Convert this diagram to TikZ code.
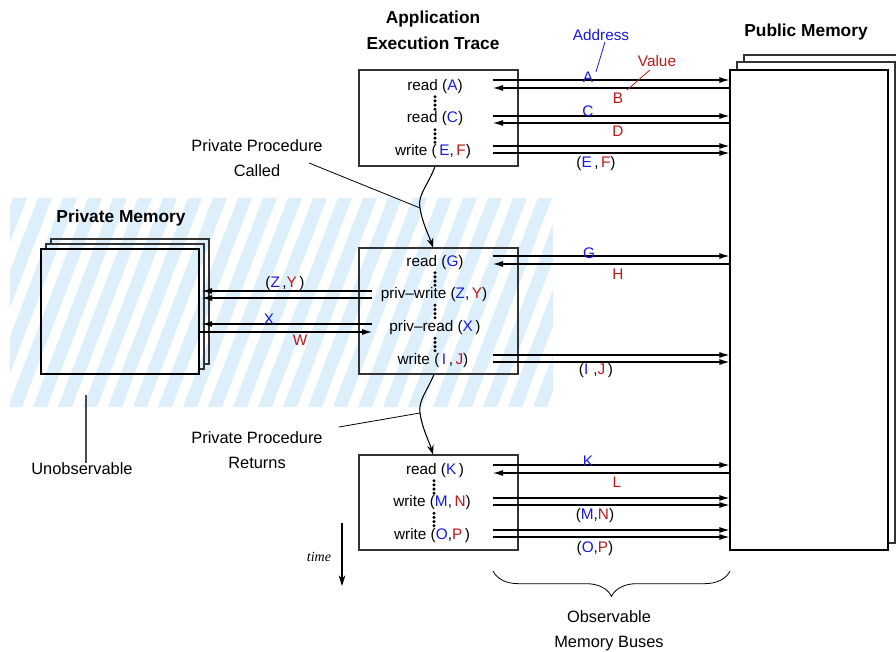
\documentclass[tikz,border=0pt]{standalone}
\usepackage{fontspec}
\setmainfont{Liberation Sans}
\newfontfamily\serifit{Liberation Serif}
\usetikzlibrary{arrows.meta,decorations.pathreplacing}
\definecolor{addr}{RGB}{25,25,225}
\definecolor{val}{RGB}{185,25,25}
\definecolor{hatchblue}{RGB}{222,239,252}
\newcommand\ad[1]{\textcolor{addr}{#1}}
\newcommand\va[1]{\textcolor{val}{#1}}

\begin{document}
\begin{tikzpicture}[x=0.75pt,y=-0.75pt,
  txt/.style={font=\fontsize{11.5}{13}\selectfont, inner sep=0pt},
  lbl/.style={font=\fontsize{12.3}{18.75}\selectfont, align=center, inner sep=0pt},
  ttl/.style={font=\fontsize{13}{19.5}\selectfont\bfseries, align=center, inner sep=0pt},
  tracebox/.style={draw=black!80, line width=0.8pt, minimum width=119.25pt, inner sep=0pt},
  membox/.style={draw=black, line width=0.8pt, minimum width=118.5pt, inner sep=0pt},
  sheet/.style={draw=black!80, line width=0.8pt},
  bus/.style={line width=0.8pt, -{Latex[length=7.5pt,width=4.5pt]}},
  plain/.style={line width=0.8pt},
  pointer/.style={line width=0.6pt},
  dotcol/.style={fill=black},
]
\useasboundingbox (0,0) rectangle (896,652);

% unobservable region: light blue diagonal stripes
\begin{scope}
  \clip (10,198) rectangle (553,407);
  \foreach \i in {0,...,28} {
    \fill[hatchblue] ({13+25*\i},198) -- ({27+25*\i},198) -- ({27+25*\i-80},407) -- ({13+25*\i-80},407) -- cycle;
  }
\end{scope}

% titles
\node[ttl] (apptitle) at (433,30) {Application\\Execution Trace};
\node[ttl] (pubtitle) at (806,32) {Public Memory};
\node[ttl] (privtitle) at (121,218) {Private Memory};

% public memory stack
\draw[sheet] (744,62) -- (744,55) -- (902,55);
\draw[sheet] (895,536) -- (902,536);
\draw[sheet] (737,70) -- (737,62) -- (895,62) -- (895,543) -- (888,543);
\node[membox, minimum height=360pt] (pub) at (809,310) {};

% private memory stack
\draw[sheet] (51,244) -- (51,239) -- (209,239) -- (209,364) -- (204,364);
\draw[sheet] (46,249) -- (46,244) -- (204,244) -- (204,369) -- (199,369);
\node[membox, minimum height=93.75pt] (priv) at (120,311.5) {};

% execution trace boxes
\node[tracebox, minimum height=72pt] (trace1) at (438.5,118) {};
\node[tracebox, minimum height=94.5pt] (trace2) at (438.5,311) {};
\node[tracebox, minimum height=71.25pt] (trace3) at (438.5,502.5) {};

% operations in the trace
\node[txt] (op1) at (435,87) {read (\ad{A})};
\node[txt] (op2) at (435,119) {read (\ad{C})};
\node[txt] (op3) at (433,152) {write (\,\ad{E},\,\va{F})};
\node[txt] (op4) at (435,263) {read (\ad{G})};
\node[txt] (op5) at (434,295) {priv\textendash write (\ad{Z},\,\va{Y})};
\node[txt] (op6) at (435,328) {priv\textendash read (\ad{X}\,)};
\node[txt] (op7) at (433,361) {write (\,\ad{I}\,,\,\va{J})};
\node[txt] (op8) at (435,471) {read (\ad{K}\,)};
\node[txt] (op9) at (432,503) {write (\ad{M},\,\va{N})};
\node[txt] (op10) at (432,536) {write (\ad{O},\va{P}\,)};

% vertical ellipses between operations
\foreach \xx/\yy in {435/103, 435/136, 435/279, 435/311.5, 435/344.5, 434/487, 434/519.5} {
  \foreach \k in {-6.3,-2.1,2.1,6.3} {
    \fill[dotcol] (\xx,\yy+\k) circle[radius=1.25pt];
  }
}

% bus end points
\foreach \nm/\yy in {a/80, b/88, c/116, d/123, e/146, f/153, g/256, h/264, i/355, j/362, k/465, l/473, m/498, n/505, o/530, p/537} {
  \coordinate (t-\nm) at (493,\yy);
  \coordinate (m-\nm) at (pub.west |- t-\nm);
}

% public memory buses
\draw[bus] (t-a) -- (m-a);
\draw[bus] (m-b) -- (t-b);
\draw[bus] (t-c) -- (m-c);
\draw[bus] (m-d) -- (t-d);
\draw[bus] (t-e) -- (m-e);
\draw[bus] (t-f) -- (m-f);
\draw[bus] (t-g) -- (m-g);
\draw[bus] (m-h) -- (t-h);
\draw[bus] (t-i) -- (m-i);
\draw[bus] (t-j) -- (m-j);
\draw[bus] (t-k) -- (m-k);
\draw[bus] (m-l) -- (t-l);
\draw[bus] (t-m) -- (m-m);
\draw[bus] (t-n) -- (m-n);
\draw[bus] (t-o) -- (m-o);
\draw[bus] (t-p) -- (m-p);

% private memory buses
\coordinate (q-z) at (372,291);
\coordinate (q-y) at (372,298);
\coordinate (q-x) at (372,324);
\coordinate (q-w) at (372,332);
\coordinate (r-z) at (202,291);
\coordinate (r-y) at (202,298);
\coordinate (r-x) at (202,324);
\coordinate (r-w) at (priv.east |- q-w);
\draw[bus] (q-z) -- (r-z);
\draw[bus] (q-y) -- (r-y);
\draw[bus] (q-x) -- (r-x);
\draw[bus] (r-w) -- (q-w);

% bus labels
\node[txt] (la) at (588,77) {\ad{A}};
\node[txt] (lb) at (618,98) {\va{B}};
\node[txt] (lc) at (588,111) {\ad{C}};
\node[txt] (ld) at (618,131) {\va{D}};
\node[txt] (lef) at (596,164) {(\ad{E}\,,\,\va{F})};
\node[txt] (lg) at (589,253) {\ad{G}};
\node[txt] (lh) at (618,274) {\va{H}};
\node[txt] (lij) at (596,371) {(\ad{I}\,\,,\va{J}\,)};
\node[txt] (lk) at (588,461) {\ad{K}};
\node[txt] (ll) at (617,482) {\va{L}};
\node[txt] (lmn) at (595,516) {(\ad{M},\va{N})};
\node[txt] (lop) at (595,549) {(\ad{O},\va{P})};
\node[txt] (lzy) at (285,284) {(\ad{Z}\,,\va{Y}\,)};
\node[txt] (lx) at (269,319) {\ad{X}};
\node[txt] (lw) at (300,340) {\va{W}};

% address / value callouts
\node[txt] (addrlbl) at (601,35) {\ad{Address}};
\node[txt] (vallbl) at (657,61) {\va{Value}};
\coordinate (addrtip) at (596,72);
\coordinate (valtip) at (627,90);
\draw[pointer, addr] (addrlbl.south) ++(4,1) coordinate (addrfoot) -- (addrtip);
\draw[pointer, val] (vallbl.south) ++(-7,3) coordinate (valfoot) -- (valtip);

% procedure call / return flow
\coordinate (callpt) at (420,208);
\coordinate (retpt) at (420,413);
\draw[plain, -{Stealth[length=7pt,width=5pt]}] (trace1.south -| 435,0) .. controls (428,185) and (417,196) .. (callpt) .. controls (422,222) and (429,236) .. (trace2.north -| 433,0);
\draw[plain, -{Stealth[length=7pt,width=5pt]}] (trace2.south -| 434,0) .. controls (427,391) and (418,401) .. (retpt) .. controls (422,428) and (429,441) .. (trace3.north -| 433,0);

\node[lbl] (calllbl) at (257,158) {Private Procedure\\Called};
\node[lbl] (retlbl) at (257,450) {Private Procedure\\Returns};
\coordinate (callfoot) at (309,163);
\coordinate (retfoot) at (339,427);
\draw[pointer] (callfoot) -- (callpt);
\draw[pointer] (retfoot) -- (retpt);

% unobservable label
\node[lbl] (unobs) at (82,469) {Unobservable};
\coordinate (unobstop) at (86,395);
\draw[pointer, black!70, line width=0.9pt] (unobstop) -- (unobs.north -| unobstop);

% time axis
\coordinate (tstart) at (342,523);
\coordinate (tend) at (342,586);
\draw[plain, -{Stealth[length=8pt,width=5pt]}] (tstart) -- (tend);
\node[font=\serifit\itshape\fontsize{10.5}{12}\selectfont, inner sep=0pt] (timelbl) at (319,557) {time};

% observable buses brace
\coordinate (brl) at (493,571);
\coordinate (brr) at (730,571);
\draw[pointer, decorate, decoration={brace, amplitude=19pt, aspect=0.5}] (brr) -- (brl);
\node[lbl] (obslbl) at (609,631) {Observable\\Memory Buses};
\end{tikzpicture}
\end{document}
